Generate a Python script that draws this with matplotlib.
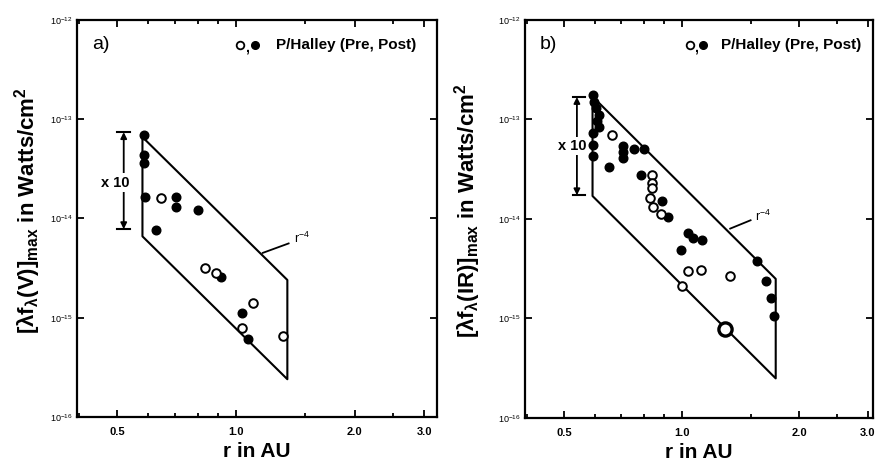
import matplotlib
matplotlib.use('Agg')
import matplotlib.pyplot as plt
from matplotlib.ticker import FixedLocator, FixedFormatter, NullFormatter

plt.rcParams['font.family'] = ['Liberation Sans', 'DejaVu Sans']
plt.rcParams['mathtext.fontset'] = 'custom'
plt.rcParams['mathtext.rm'] = 'Liberation Sans'
plt.rcParams['mathtext.it'] = 'Liberation Sans:italic'
plt.rcParams['mathtext.bf'] = 'Liberation Sans:bold'

# ---------------- data ----------------
# panel a : visual
a_post_r = [0.585, 0.585, 0.585, 0.589, 0.705, 0.705, 0.802, 0.628, 0.916, 1.036, 1.074]
a_post_f = [6.9e-14, 4.4e-14, 3.6e-14, 1.65e-14, 1.65e-14, 1.31e-14, 1.22e-14, 7.7e-15,
            2.57e-15, 1.12e-15, 6.1e-16]
a_pre_r = [0.646, 0.835, 0.890, 1.105, 1.036, 1.316]
a_pre_f = [1.61e-14, 3.17e-15, 2.82e-15, 1.41e-15, 7.9e-16, 6.55e-16]
a_band_r = [0.58, 1.35, 1.35, 0.58, 0.58]
a_band_f = [6.6e-14, 2.4e-15, 2.4e-16, 6.6e-15, 6.6e-14]

# panel b : infrared
b_post_r = [0.591, 0.595, 0.602, 0.613, 0.605, 0.613, 0.591, 0.591, 0.591,
            0.706, 0.706, 0.706, 0.753, 0.799, 0.650, 0.785, 0.889, 0.921,
            1.036, 1.067, 1.125, 0.994, 1.557, 1.642, 1.691, 1.721]
b_post_f = [1.76e-13, 1.49e-13, 1.30e-13, 1.10e-13, 9.6e-14, 8.4e-14, 7.3e-14, 5.5e-14, 4.3e-14,
            5.4e-14, 4.7e-14, 4.1e-14, 5.0e-14, 5.0e-14, 3.3e-14, 2.75e-14, 1.50e-14, 1.04e-14,
            7.2e-15, 6.5e-15, 6.2e-15, 4.9e-15, 3.8e-15, 2.4e-15, 1.6e-15, 1.05e-15]
b_pre_r = [0.662, 0.838, 0.838, 0.838, 0.828, 0.843, 0.884, 1.036, 1.118, 1.328, 1.0]
b_pre_f = [6.95e-14, 2.75e-14, 2.28e-14, 2.03e-14, 1.61e-14, 1.31e-14, 1.11e-14,
           2.97e-15, 3.04e-15, 2.70e-15, 2.10e-15]
b_pre_big_r = [1.29]
b_pre_big_f = [7.9e-16]
b_band_r = [0.59, 1.74, 1.74, 0.59, 0.59]
b_band_f = [1.7e-13, 2.5e-15, 2.5e-16, 1.7e-14, 1.7e-13]

x_major = [0.5, 1.0, 2.0, 3.0]
x_major_labels = ['0.5', '1.0', '2.0', '3.0']
x_minor = [0.4, 0.6, 0.7, 0.8, 0.9, 1.5, 2.5]
y_major = [1e-16, 1e-15, 1e-14, 1e-13, 1e-12]
y_major_labels = [r'$10^{-16}$', r'$10^{-15}$', r'$10^{-14}$', r'$10^{-13}$', r'$10^{-12}$']

legend_text = 'P/Halley (Pre, Post)'
ylabel_a = r'$\mathbf{[\lambda f_{\lambda}(V)]_{max}}$ in Watts/cm$\mathbf{^{2}}$'
ylabel_b = r'$\mathbf{[\lambda f_{\lambda}(IR)]_{max}}$ in Watts/cm$\mathbf{^{2}}$'

# ---------------- figure ----------------
fig = plt.figure(figsize=(8.75, 4.63), dpi=100)
ax_a = fig.add_axes([0.088, 0.0994, 0.4114, 0.8576])
ax_b = fig.add_axes([0.600, 0.0972, 0.3977, 0.8598])


def style(ax, xlim, ylabel):
    ax.set_xscale('log')
    ax.set_yscale('log')
    ax.set_xlim(*xlim)
    ax.set_ylim(1e-16, 1e-12)
    ax.xaxis.set_major_locator(FixedLocator(x_major))
    ax.xaxis.set_major_formatter(FixedFormatter(x_major_labels))
    ax.xaxis.set_minor_locator(FixedLocator(x_minor))
    ax.xaxis.set_minor_formatter(NullFormatter())
    ax.yaxis.set_major_locator(FixedLocator(y_major))
    ax.yaxis.set_major_formatter(FixedFormatter(y_major_labels))
    ax.yaxis.set_minor_locator(FixedLocator([]))
    ax.tick_params(which='both', direction='in', top=True, right=True, width=1.3)
    ax.tick_params(which='major', length=5)
    ax.tick_params(which='minor', length=3)
    ax.tick_params(axis='x', labelsize=8, pad=7)
    ax.tick_params(axis='y', labelsize=6.5, pad=3)
    for lab in ax.get_xticklabels():
        lab.set_fontweight('bold')
    for sp in ax.spines.values():
        sp.set_linewidth(1.6)
    ax.set_xlabel('r in AU', fontsize=15, fontweight='bold', labelpad=4)
    ax.set_ylabel(ylabel, fontsize=16, fontweight='bold')


style(ax_a, (0.396, 3.23), ylabel_a)
style(ax_b, (0.396, 3.09), ylabel_b)
ax_a.yaxis.set_label_coords(-0.094, 0.52)
ax_b.yaxis.set_label_coords(-0.122, 0.52)

ms = 6.2
for ax, band_r, band_f, post_r, post_f, pre_r, pre_f in [
        (ax_a, a_band_r, a_band_f, a_post_r, a_post_f, a_pre_r, a_pre_f),
        (ax_b, b_band_r, b_band_f, b_post_r, b_post_f, b_pre_r, b_pre_f)]:
    ax.plot(band_r, band_f, color='black', lw=1.5, zorder=2)
    ax.plot(post_r, post_f, 'o', ms=ms, color='black', zorder=3)
    ax.plot(pre_r, pre_f, 'o', ms=ms, mfc='white', mec='black', mew=1.4, zorder=3)

ax_b.plot(b_pre_big_r, b_pre_big_f, 'o', ms=9.5, mfc='white', mec='black', mew=2.4, zorder=3)

# x10 arrows
def x10(ax, x, ytop, ybot, cap, ytext, xtext):
    ax.annotate('', xy=(x, ytop), xytext=(x, ybot),
                arrowprops=dict(arrowstyle='<|-|>', color='black', lw=1.3,
                                mutation_scale=9, shrinkA=0, shrinkB=0))
    for yy in (ytop, ybot):
        ax.plot(cap, [yy, yy], color='black', lw=1.5)
    ax.text(xtext, ytext, 'x 10', ha='center', va='center', fontsize=10.5,
            fontweight='bold', bbox=dict(facecolor='white', edgecolor='none', pad=1.5))

x10(ax_a, 0.520, 7.4e-14, 7.8e-15, [0.500, 0.538], 2.3e-14, 0.495)
x10(ax_b, 0.538, 1.68e-13, 1.73e-14, [0.525, 0.565], 5.4e-14, 0.522)

# r^-4 labels
ax_a.plot([1.17, 1.36], [4.5e-15, 5.6e-15], color='black', lw=1.3)
ax_a.text(1.40, 6.3e-15, r'r$^{-4}$', fontsize=9, ha='left', va='center')
ax_b.plot([1.33, 1.50], [8.0e-15, 9.7e-15], color='black', lw=1.3)
ax_b.text(1.54, 1.05e-14, r'r$^{-4}$', fontsize=9, ha='left', va='center')

# panel labels and legend
for ax, lab, xo, xf, xt in [(ax_a, 'a)', 0.453, 0.494, 0.552),
                            (ax_b, 'b)', 0.474, 0.511, 0.562)]:
    ax.text(0.043, 0.937, lab, transform=ax.transAxes, fontsize=14,
            ha='left', va='center')
    ax.plot([xo], [0.937], 'o', ms=5.5, mfc='white', mec='black', mew=1.3,
            transform=ax.transAxes, clip_on=False)
    ax.text((xo + xf) / 2, 0.930, ',', transform=ax.transAxes, fontsize=10,
            fontweight='bold', ha='center', va='center')
    ax.plot([xf], [0.937], 'o', ms=5.5, color='black', transform=ax.transAxes,
            clip_on=False)
    ax.text(xt, 0.937, legend_text, transform=ax.transAxes, fontsize=11,
            fontweight='bold', ha='left', va='center')

fig.savefig('out.png', dpi=100)
